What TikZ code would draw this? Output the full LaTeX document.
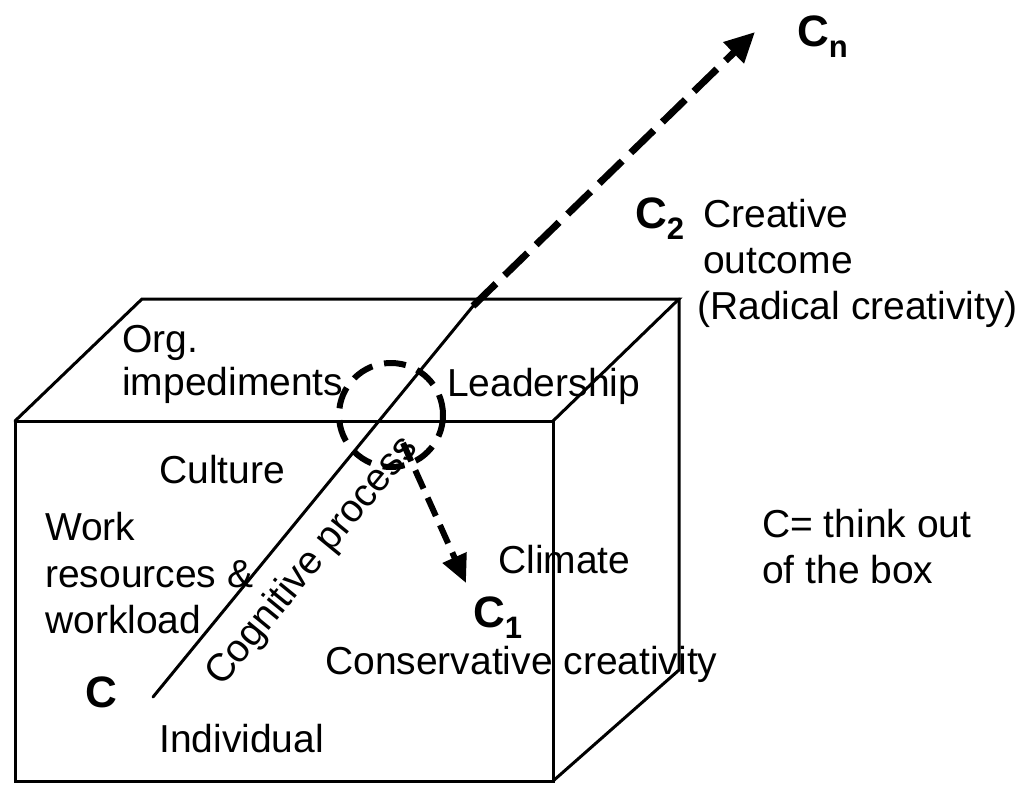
\documentclass[tikz,border=0pt]{standalone}
\usepackage{fontspec}
\setmainfont{Liberation Sans}
\usetikzlibrary{arrows.meta}
\tikzset{
  edge/.style={line width=3pt, line cap=round, line join=miter},
  thickdash/.style={line width=7pt, dash pattern=on 32pt off 12pt},
  loopdash/.style={line width=6pt, dash pattern=on 22pt off 12pt},
  smalldash/.style={line width=6pt, dash pattern=on 20pt off 10pt},
  lbl/.style={inner sep=0pt, anchor=base west, font=\fontsize{39}{46}\selectfont},
  big/.style={inner sep=0pt, anchor=base west, font=\fontsize{44}{50}\selectfont\bfseries},
}
\newcommand{\mysub}[1]{{\fontsize{31}{31}\selectfont\raisebox{-11pt}{#1}}}
\begin{document}
\begin{tikzpicture}[x=1pt,y=-1pt]
\path[use as bounding box, fill=white] (0,0) rectangle (1024,784);
% cube corners
\coordinate (ftl) at (15,421);
\coordinate (ftr) at (553,421);
\coordinate (fbr) at (553,781);
\coordinate (fbl) at (15,781);
\coordinate (btl) at (142,299);
\coordinate (btr) at (679,299);
\coordinate (bbr) at (679,670);
\draw[edge] (ftl) -- (ftr) -- (fbr) -- (fbl) -- cycle;
\draw[edge] (ftl) -- (btl) -- (btr) -- (ftr);
\draw[edge] (btr) -- (bbr) -- (fbr);
% cognitive process line
\coordinate (cstart) at (153,697);
\coordinate (ctop) at (478,300);
\coordinate (darrow) at (473,306);
\coordinate (cntip) at (755,32);
\draw[edge] (cstart) -- (ctop);
\draw[thickdash, -{Triangle[length=30pt,width=28pt]}] (darrow) -- (cntip);
% loop and arrow to C1
\coordinate (loopc) at (391,415);
\draw[loopdash] (loopc) circle[radius=52];
\coordinate (c1from) at (403,443);
\coordinate (c1tip) at (466,583);
\draw[smalldash, -{Triangle[length=28pt,width=25pt]}] (c1from) -- (c1tip);
% labels
\node[big] (cn) at (797,47) {C\mysub{n}};
\node[big] (c2) at (635,228) {C\mysub{2}};
\node[lbl] (creat1) at (703,227) {Creative};
\node[lbl] (creat2) at (703,273) {outcome};
\node[lbl] (creat3) at (697,319) {(Radical creativity)};
\node[lbl] (org1) at (122,352) {Org.};
\node[lbl] (org2) at (122,395) {impediments};
\node[lbl] (lead) at (447,396) {Leadership};
\node[lbl] (cult) at (159,483) {Culture};
\node[lbl] (work1) at (45,540) {Work};
\node[lbl] (work2) at (45,587) {resources \&};
\node[lbl] (work3) at (45,633) {workload};
\node[big] (c0) at (85,707) {C};
\node[lbl] (indiv) at (159,752) {Individual};
\node[lbl] (clim) at (498,573) {Climate};
\node[big] (c1) at (473,627) {C\mysub{1}};
\node[lbl] (cons) at (325,674) {Conservative creativity};
\node[lbl, rotate=50.7] (cog) at (222,688) {Cognitive process};
\node[lbl] (think1) at (762,537) {C= think out};
\node[lbl] (think2) at (762,583) {of the box};
\end{tikzpicture}
\end{document}
